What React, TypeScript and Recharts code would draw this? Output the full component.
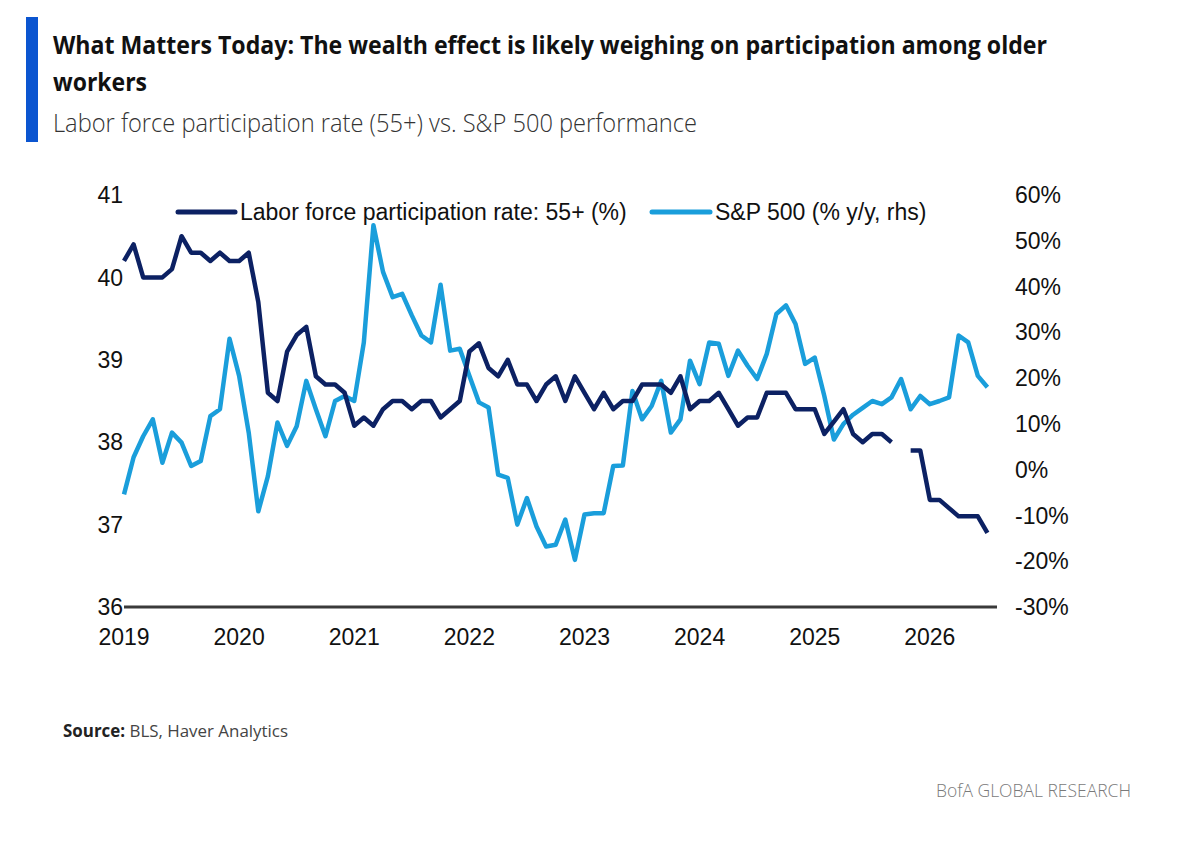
import { LineChart, Line, XAxis, YAxis } from "recharts";

// Labor force participation rate, 55+ (%), monthly from Jan 2019 (null = missing month)
const lfpr: (number | null)[] = [
  40.2, 40.4, 40.0, 40.0, 40.0, 40.1, 40.5, 40.3, 40.3, 40.2, 40.3, 40.2,
  40.2, 40.3, 39.7, 38.6, 38.5, 39.1, 39.3, 39.4, 38.8, 38.7, 38.7, 38.6,
  38.2, 38.3, 38.2, 38.4, 38.5, 38.5, 38.4, 38.5, 38.5, 38.3, 38.4, 38.5,
  39.1, 39.2, 38.9, 38.8, 39.0, 38.7, 38.7, 38.5, 38.7, 38.8, 38.5, 38.8,
  38.6, 38.4, 38.6, 38.4, 38.5, 38.5, 38.7, 38.7, 38.7, 38.6, 38.8, 38.4,
  38.5, 38.5, 38.6, 38.4, 38.2, 38.3, 38.3, 38.6, 38.6, 38.6, 38.4, 38.4,
  38.4, 38.1, 38.25, 38.4, 38.1, 38.0, 38.1, 38.1, 38.0, null, 37.9, 37.9,
  37.3, 37.3, 37.2, 37.1, 37.1, 37.1, 36.9,
];

// S&P 500 (% y/y), same months
const spx: number[] = [
  -5.4, 2.7, 7.3, 11.0, 1.5, 8.1, 5.9, 0.8, 1.9, 11.7, 13.2, 28.6,
  20.5, 8.1, -9.1, -1.4, 10.3, 5.2, 9.5, 19.4, 13.2, 7.3, 15.0, 16.1,
  15.0, 27.8, 53.4, 43.2, 37.7, 38.4, 33.7, 29.3, 27.8, 40.4, 26.0, 26.4,
  20.5, 14.7, 13.6, -1.1, -1.8, -12.0, -6.2, -12.4, -16.8, -16.4, -10.9, -19.7,
  -9.8, -9.5, -9.5, 0.8, 0.9, 17.2, 11.0, 13.9, 19.4, 8.1, 11.0, 23.8,
  18.7, 27.8, 27.5, 20.5, 26.0, 22.7, 19.8, 25.3, 34.0, 35.9, 31.8, 23.1,
  24.5, 16.1, 6.6, 10.0, 12.0, 13.5, 15.0, 14.3, 15.8, 19.8, 13.2, 16.1,
  14.3, 15.0, 15.8, 29.3, 27.8, 20.5, 18.0,
];

const yearTicks = [0, 12, 24, 36, 48, 60, 72, 84];
const yearLabels = ["2019", "2020", "2021", "2022", "2023", "2024", "2025", "2026"];
const leftTicks = [36, 37, 38, 39, 40, 41];
const rightTicks = [-30, -20, -10, 0, 10, 20, 30, 40, 50, 60];

const chartData = spx.map((v, i) => ({ m: i, lfpr: lfpr[i], spx: v }));

const DARK = "#0c2163";
const LIGHT = "#1a9edb";
const tickFont = { fill: "#111", fontSize: 23, fontFamily: "Liberation Sans, Arial, sans-serif" };

export default function App() {
  return (
    <div
      style={{
        position: "absolute",
        left: 0,
        top: 0,
        width: 1200,
        height: 841,
        background: "#fff",
        overflow: "hidden",
      }}
    >
      <svg width={1200} height={150} style={{ position: "absolute", left: 0, top: 0 }}>
        <rect x={26} y={17} width={12} height={125} fill="#0b55d0" />
        <text
          x={53}
          y={54}
          fontFamily="Open Sans, sans-serif"
          fontWeight={700}
          fontSize={25}
          fill="#111"
          textLength={994}
          lengthAdjust="spacingAndGlyphs"
        >
          What Matters Today: The wealth effect is likely weighing on participation among older
        </text>
        <text
          x={53}
          y={91}
          fontFamily="Open Sans, sans-serif"
          fontWeight={700}
          fontSize={25}
          fill="#111"
          textLength={94}
          lengthAdjust="spacingAndGlyphs"
        >
          workers
        </text>
        <text
          x={53}
          y={132}
          fontFamily="Open Sans, sans-serif"
          fontWeight={300}
          fontSize={26}
          fill="#333"
          textLength={644}
          lengthAdjust="spacingAndGlyphs"
        >
          Labor force participation rate (55+) vs. S&amp;P 500 performance
        </text>
      </svg>

      <div style={{ position: "absolute", left: 0, top: 0 }}>
        <LineChart
          width={1200}
          height={680}
          data={chartData}
          margin={{ top: 195, right: 103, left: 64, bottom: 33 }}
        >
          <XAxis
            dataKey="m"
            type="number"
            domain={[0, 91]}
            ticks={yearTicks}
            tickFormatter={(v: number) => yearLabels[yearTicks.indexOf(v)]}
            tick={tickFont}
            tickLine={false}
            tickSize={0}
            tickMargin={22}
            height={40}
            axisLine={{ stroke: "#3a3a3a", strokeWidth: 3 }}
          />
          <YAxis
            yAxisId="left"
            orientation="left"
            domain={[36, 41]}
            ticks={leftTicks}
            tick={tickFont}
            tickLine={false}
            axisLine={false}
            tickSize={0}
            tickMargin={1}
            width={60}
          />
          <YAxis
            yAxisId="right"
            orientation="right"
            domain={[-30, 60]}
            ticks={rightTicks}
            tickFormatter={(v: number) => `${v}%`}
            tick={tickFont}
            tickLine={false}
            axisLine={false}
            tickSize={0}
            tickMargin={18}
            width={100}
          />
          <Line
            yAxisId="right"
            dataKey="spx"
            stroke={LIGHT}
            strokeWidth={4.5}
            dot={false}
            strokeLinejoin="round"
            isAnimationActive={false}
          />
          <Line
            yAxisId="left"
            dataKey="lfpr"
            stroke={DARK}
            strokeWidth={4.5}
            dot={false}
            strokeLinejoin="round"
            isAnimationActive={false}
          />
        </LineChart>
      </div>

      <svg width={1200} height={40} style={{ position: "absolute", left: 0, top: 192 }}>
        <line x1={178} y1={20} x2={235} y2={20} stroke={DARK} strokeWidth={5} strokeLinecap="round" />
        <text x={240} y={28} fontFamily="Liberation Sans, Arial, sans-serif" fontSize={23} fill="#111">
          Labor force participation rate: 55+ (%)
        </text>
        <line x1={652} y1={20} x2={710} y2={20} stroke={LIGHT} strokeWidth={5} strokeLinecap="round" />
        <text x={715} y={28} fontFamily="Liberation Sans, Arial, sans-serif" fontSize={23} fill="#111">
          S&amp;P 500 (% y/y, rhs)
        </text>
      </svg>

      <svg width={1200} height={120} style={{ position: "absolute", left: 0, top: 700 }}>
        <text
          x={63}
          y={37}
          fontFamily="Open Sans, sans-serif"
          fontSize={17}
          fill="#444"
          textLength={225}
          lengthAdjust="spacingAndGlyphs"
        >
          <tspan fontWeight={700} fill="#222">Source:</tspan>
          <tspan> BLS, Haver Analytics</tspan>
        </text>
        <text
          x={936}
          y={97}
          fontFamily="Open Sans, sans-serif"
          fontWeight={300}
          fontSize={18}
          fill="#7a7a7a"
          textLength={195}
          lengthAdjust="spacingAndGlyphs"
        >
          BofA GLOBAL RESEARCH
        </text>
      </svg>
    </div>
  );
}
